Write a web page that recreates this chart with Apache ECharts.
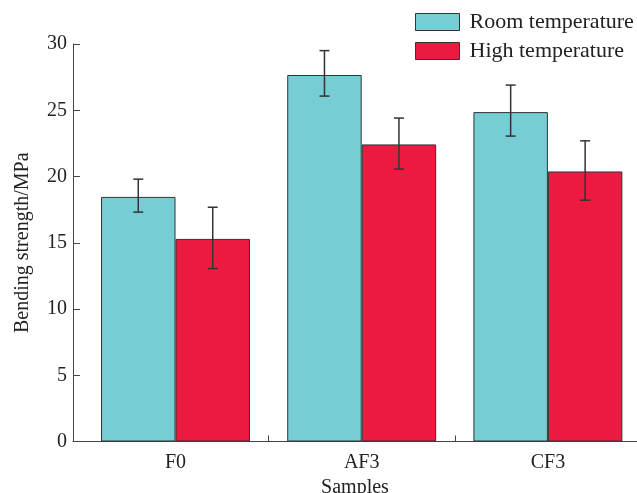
<!DOCTYPE html>
<html>
<head>
<meta charset="utf-8">
<script src="https://cdn.jsdelivr.net/npm/echarts@6/dist/echarts.min.js"></script>
<style>html,body{margin:0;padding:0;background:#fff}#c{width:637px;height:493px}</style>
</head>
<body>
<div id="c"></div>
<script>
const categories = ['F0', 'AF3', 'CF3'];
const seriesNames = ['Room temperature', 'High temperature'];
const roomValues = [18.46, 27.66, 24.86];
const roomErrLow = [17.31, 26.07, 23.05];
const roomErrHigh = [19.80, 29.50, 26.90];
const highValues = [15.29, 22.42, 20.38];
const highErrLow = [13.05, 20.56, 18.21];
const highErrHigh = [17.68, 24.41, 22.69];
const yTicks = [0, 5, 10, 15, 20, 25, 30];

const FONT = '"Liberation Serif", "Times New Roman", serif';
const BAR_FRAC = 0.40;

const chart = echarts.init(document.getElementById('c'), null, {renderer: 'canvas'});

const positions = categories.map((c, i) => i + 1);
const roomData = positions.map((p, i) => [p, roomValues[i]]);
const highData = positions.map((p, i) => [p, highValues[i]]);
const errData = [];
positions.forEach((p, i) => {
  errData.push([p, roomErrLow[i], roomErrHigh[i], -1]);
  errData.push([p, highErrLow[i], highErrHigh[i], 1]);
});

function renderErr(params, api) {
  const x = api.value(0);
  const lo = api.value(1);
  const hi = api.value(2);
  const side = api.value(3);
  const band = api.size([1, 0])[0];
  const off = side * band * BAR_FRAC / 2;
  const pLo = api.coord([x, lo]);
  const pHi = api.coord([x, hi]);
  const cx = pLo[0] + off;
  const cap = 5;
  const style = {stroke: '#333', lineWidth: 1.5, fill: null};
  return {
    type: 'group',
    children: [
      {type: 'line', shape: {x1: cx, y1: pLo[1], x2: cx, y2: pHi[1]}, style},
      {type: 'line', shape: {x1: cx - cap, y1: pLo[1], x2: cx + cap, y2: pLo[1]}, style},
      {type: 'line', shape: {x1: cx - cap, y1: pHi[1], x2: cx + cap, y2: pHi[1]}, style}
    ]
  };
}

const option = {
  backgroundColor: '#fff',
  animation: false,
  textStyle: {fontFamily: FONT, color: '#222'},
  grid: {left: 73, right: 0, top: 44, bottom: 51.5, containLabel: false, outerBoundsMode: 'none'},
  legend: {
    data: seriesNames,
    orient: 'vertical',
    left: 415,
    top: 11,
    padding: 0,
    itemWidth: 44,
    itemHeight: 17,
    itemGap: 7,
    icon: 'rect',
    itemStyle: {borderColor: '#333', borderWidth: 1},
    textStyle: {fontFamily: FONT, fontSize: 22, color: '#222', padding: [0, 0, 0, 5]}
  },
  xAxis: {
    type: 'value',
    min: 0.4495,
    max: 3.4785,
    name: 'Samples',
    nameLocation: 'middle',
    nameGap: 32,
    nameTextStyle: {fontFamily: FONT, fontSize: 20, color: '#222'},
    axisLine: {show: true, lineStyle: {color: '#444', width: 1}},
    axisTick: {show: true, inside: true, length: 6, customValues: [1.5, 2.5], lineStyle: {color: '#444'}},
    axisLabel: {
      customValues: positions,
      formatter: v => categories[Math.round(v) - 1] || '',
      fontFamily: FONT, fontSize: 20, color: '#222', margin: 11
    },
    splitLine: {show: false}
  },
  yAxis: {
    type: 'value',
    min: 0,
    max: 30,
    interval: 5,
    name: 'Bending strength/MPa',
    nameLocation: 'middle',
    nameGap: 40,
    nameTextStyle: {fontFamily: FONT, fontSize: 20, color: '#222'},
    axisLine: {show: true, lineStyle: {color: '#444', width: 1}},
    axisTick: {show: true, inside: true, length: 7, lineStyle: {color: '#444'}},
    axisLabel: {fontFamily: FONT, fontSize: 20, color: '#222', margin: 6,
      formatter: v => yTicks.includes(v) ? String(v) : ''},
    splitLine: {show: false}
  },
  series: [
    {
      name: seriesNames[0], type: 'bar', data: roomData,
      barWidth: (BAR_FRAC * 100) + '%', barGap: '0%',
      itemStyle: {color: '#76CED4', borderColor: '#333', borderWidth: 1}
    },
    {
      name: seriesNames[1], type: 'bar', data: highData,
      barWidth: (BAR_FRAC * 100) + '%', barGap: '0%',
      itemStyle: {color: '#EC1A40', borderColor: '#333', borderWidth: 1}
    },
    {
      name: 'err', type: 'custom', renderItem: renderErr, data: errData,
      encode: {x: 0, y: [1, 2]}, z: 10, silent: true
    }
  ]
};
chart.setOption(option);
</script>
</body>
</html>
